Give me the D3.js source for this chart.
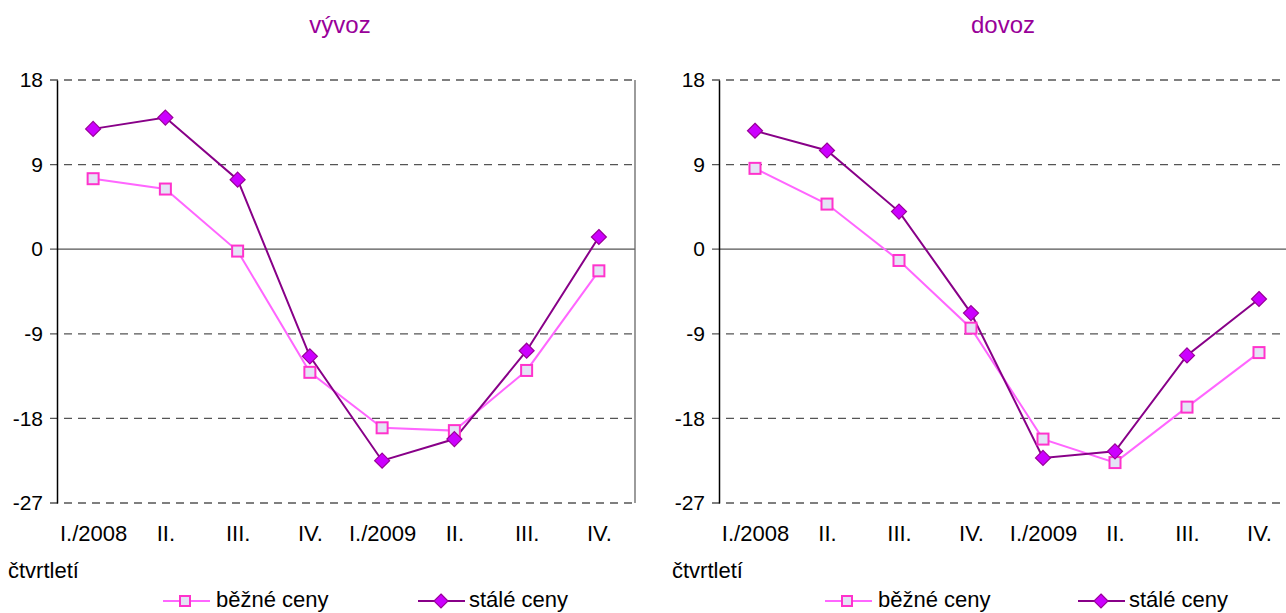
<!DOCTYPE html>
<html>
<head>
<meta charset="utf-8">
<script src="https://cdn.jsdelivr.net/npm/d3@7"></script>
<style>
  html, body { margin: 0; padding: 0; background: #fff; }
  svg { display: block; font-family: "Liberation Sans", Arial, sans-serif; }
</style>
</head>
<body>
<svg id="chart" width="1286" height="613"></svg>
<script>
// ---- data ----
const categories = ["I./2008", "II.", "III.", "IV.", "I./2009", "II.", "III.", "IV."];
const yTicks = [18, 9, 0, -9, -18, -27];
const seriesNames = ["běžné ceny", "stálé ceny"];
const panelTitles = ["vývoz", "dovoz"];
const xAxisTitle = "čtvrtletí";

const vyvozBezne = [7.5, 6.4, -0.2, -13.1, -19.0, -19.3, -12.9, -2.3];
const vyvozStale = [12.8, 14.0, 7.4, -11.4, -22.5, -20.2, -10.8, 1.3];
const dovozBezne = [8.6, 4.8, -1.2, -8.4, -20.2, -22.7, -16.8, -11.0];
const dovozStale = [12.6, 10.5, 4.0, -6.8, -22.2, -21.5, -11.3, -5.3];

// ---- styles ----
const bezColor = "#FF66FF", bezMarkerStroke = "#FF33CC", bezMarkerFill = "#E4E4F6";
const staColor = "#880088", staMarkerStroke = "#990099", staMarkerFill = "#CC00FF";
const titleColor = "#990099";
const FONT = "Liberation Sans, Arial, sans-serif";

const svg = d3.select("#chart");

const panels = [
  { title: panelTitles[0], bez: vyvozBezne, sta: vyvozStale, left: 57, right: 635, titleX: 340, axTitleX: 8, legendX: [163, 418], border: true },
  { title: panelTitles[1], bez: dovozBezne, sta: dovozStale, left: 719, right: 1295, titleX: 1003, axTitleX: 672, legendX: [825, 1078], border: false }
];
const plotTop = 80, plotBottom = 503;

function drawSquare(g, cx, cy, s) {
  g.append("rect").attr("x", cx - s / 2).attr("y", cy - s / 2).attr("width", s).attr("height", s)
    .attr("fill", bezMarkerFill).attr("stroke", bezMarkerStroke).attr("stroke-width", 2);
}
function drawDiamond(g, cx, cy, r) {
  g.append("path").attr("d", `M${cx},${cy - r}L${cx + r},${cy}L${cx},${cy + r}L${cx - r},${cy}Z`)
    .attr("fill", staMarkerFill).attr("stroke", staMarkerStroke).attr("stroke-width", 1.2);
}

panels.forEach(p => {
  const x = d3.scalePoint().domain(d3.range(categories.length)).range([p.left, p.right]).padding(0.5);
  const y = d3.scaleLinear().domain([-27, 18]).range([plotBottom, plotTop]);
  const g = svg.append("g");

  // title
  g.append("text").attr("x", p.titleX).attr("y", 27).attr("text-anchor", "middle")
    .attr("dominant-baseline", "middle").attr("font-size", 24).attr("fill", titleColor).text(p.title);

  // gridlines
  yTicks.forEach(t => {
    g.append("line").attr("x1", p.left - 7).attr("x2", p.right).attr("y1", y(t)).attr("y2", y(t))
      .attr("stroke", "#555").attr("stroke-width", 1.3)
      .attr("stroke-dasharray", t === 0 ? null : "8,6");
  });
  if (p.border) {
    g.append("line").attr("x1", p.right).attr("x2", p.right).attr("y1", plotTop).attr("y2", plotBottom)
      .attr("stroke", "#666").attr("stroke-width", 1.3);
  }

  // y axis
  const yAxis = d3.axisLeft(y).tickValues(yTicks).tickSize(0).tickPadding(14).tickFormat(d => String(d));
  const ya = g.append("g").attr("transform", `translate(${p.left},0)`).call(yAxis);
  ya.attr("font-family", FONT);
  ya.select(".domain").attr("stroke", "#000").attr("stroke-width", 1.5);
  ya.selectAll("text").attr("font-size", 21).attr("fill", "#000");

  // x axis labels
  const xAxis = d3.axisBottom(x).tickSize(0).tickPadding(0).tickFormat(i => categories[i]);
  const xa = g.append("g").attr("transform", `translate(0,${plotBottom + 22})`).call(xAxis);
  xa.attr("font-family", FONT);
  xa.select(".domain").remove();
  xa.selectAll("text").attr("font-size", 22).attr("fill", "#000");

  // axis title
  g.append("text").attr("x", p.axTitleX).attr("y", 572).attr("dominant-baseline", "middle")
    .attr("font-size", 22).attr("fill", "#000").text(xAxisTitle);

  // lines
  const line = d3.line().x((d, i) => x(i)).y(d => y(d));
  g.append("path").datum(p.bez).attr("d", line).attr("fill", "none").attr("stroke", bezColor).attr("stroke-width", 2);
  g.append("path").datum(p.sta).attr("d", line).attr("fill", "none").attr("stroke", staColor).attr("stroke-width", 2);

  p.bez.forEach((v, i) => drawSquare(g, x(i), y(v), 11));
  p.sta.forEach((v, i) => drawDiamond(g, x(i), y(v), 7.5));

  // legend
  const ly = 601;
  const [l1, l2] = p.legendX;
  g.append("line").attr("x1", l1).attr("x2", l1 + 47).attr("y1", ly).attr("y2", ly).attr("stroke", bezColor).attr("stroke-width", 2);
  drawSquare(g, l1 + 22, ly, 10);
  g.append("text").attr("x", l1 + 53).attr("y", ly).attr("dominant-baseline", "middle").attr("font-size", 22).text(seriesNames[0]);
  g.append("line").attr("x1", l2).attr("x2", l2 + 47).attr("y1", ly).attr("y2", ly).attr("stroke", staColor).attr("stroke-width", 2);
  drawDiamond(g, l2 + 23, ly, 7);
  g.append("text").attr("x", l2 + 51).attr("y", ly).attr("dominant-baseline", "middle").attr("font-size", 22).text(seriesNames[1]);
});
</script>
</body>
</html>
